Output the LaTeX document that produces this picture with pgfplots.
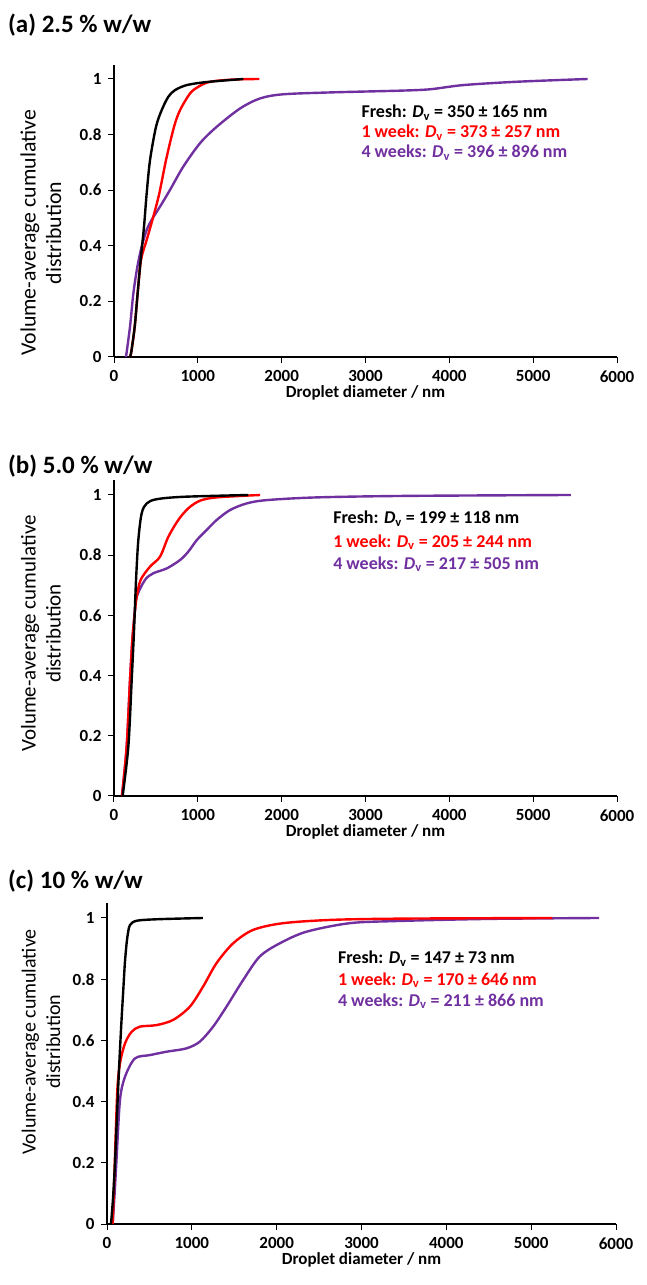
\documentclass[border=0pt]{standalone}
\usepackage{pgfplots}
\pgfplotsset{compat=1.18}
\usepackage{fontspec}
\setmainfont{Carlito}
\definecolor{vio}{RGB}{112,48,160}
\definecolor{rd}{RGB}{255,0,0}

\pgfplotsset{panel/.style={
  scale only axis, width=503pt,
  axis lines=left, axis line style={-, line width=1.1pt},
  xmin=0, xmax=6000, ymin=0, ymax=1.05,
  xtick={0,1000,2000,3000,4000,5000,6000},
  ytick={0,0.2,0.4,0.6,0.8,1},
  tick align=outside, major tick length=6pt,
  tick style={black, line width=1pt},
  ticklabel style={font=\bfseries\fontsize{17}{20}\selectfont},
  xticklabel style={yshift=-4pt},
  yticklabel style={xshift=-3pt},
  /pgf/number format/assume math mode=true,
  /pgf/number format/1000 sep={},
  scaled ticks=false,
  xlabel={Droplet diameter / nm},
  every axis x label/.style={at={(axis description cs:0.5,0)}, yshift=-36pt, anchor=center,
     font=\bfseries\fontsize{17}{20}\selectfont},
  ylabel={Volume-average cumulative\\distribution},
  every axis y label/.style={anchor=center, align=center},
  every axis plot/.append style={line width=2.4pt, smooth, tension=0.5, no marks},
  clip=false,
}}
\tikzset{ann/.style={anchor=base west, font=\bfseries\fontsize{18}{21}\selectfont, inner sep=0}}

\begin{document}
\begin{tikzpicture}
\path[use as bounding box] (0pt,0pt) rectangle (646pt,1285pt);

% titles
\node[anchor=base west, font=\bfseries\fontsize{25}{30}\selectfont, inner sep=0] at (8pt,1252pt) {(a) 2.5 \% w/w};
\node[anchor=base west, font=\bfseries\fontsize{25}{30}\selectfont, inner sep=0] at (8pt,811pt) {(b) 5.0 \% w/w};
\node[anchor=base west, font=\bfseries\fontsize{25}{30}\selectfont, inner sep=0] at (8pt,396pt) {(c) 10 \% w/w};

% ---------------- panel (a)
\begin{axis}[panel, height=291.9pt, at={(114pt,928pt)}, anchor=south west,
  ylabel style={at={(axis description cs:0,0.425)}, xshift=-73pt, rotate=90, font=\fontsize{21.8}{25.5}\selectfont}]
\addplot[vio] coordinates {
(143,0) (191,0.109) (231,0.229) (279,0.325) (330,0.397) (390,0.457) (449,0.493) (549,0.541)
(668,0.601) (827,0.685) (1026,0.769) (1225,0.828) (1504,0.894) (1742,0.930) (2020,0.945)
(2617,0.952) (3413,0.958) (3771,0.963) (4165,0.978) (4800,0.99) (5650,1.0)};
\addplot[rd] coordinates {
(183,0) (203,0.013) (247,0.109) (282,0.229) (322,0.349) (390,0.421) (469,0.505) (541,0.589)
(621,0.709) (716,0.828) (788,0.888) (907,0.948) (1006,0.972) (1146,0.99) (1424,0.998) (1734,1.0)};
\addplot[black] coordinates {
(183,0) (203,0.013) (247,0.109) (282,0.229) (318,0.349) (358,0.469) (390,0.589) (430,0.709)
(501,0.828) (569,0.888) (648,0.936) (728,0.96) (867,0.978) (1105,0.989) (1543,1.0)};
\node[ann, text=black] at (axis cs:2950,0.86) {Fresh: \textit{D}\textsubscript{v} = 350 ± 165 nm};
\node[ann, text=rd] at (axis cs:2950,0.788) {1 week: \textit{D}\textsubscript{v} = 373 ± 257 nm};
\node[ann, text=vio] at (axis cs:2950,0.716) {4 weeks: \textit{D}\textsubscript{v} = 396 ± 896 nm};
\end{axis}

% ---------------- panel (b)
\begin{axis}[panel, height=316.05pt, at={(114pt,489pt)}, anchor=south west,
  ylabel style={at={(axis description cs:0,0.514)}, xshift=-73pt, rotate=90, font=\fontsize{21}{25}\selectfont}]
\addplot[vio] coordinates {
(95,0) (151,0.164) (191,0.385) (219,0.518) (247,0.607) (271,0.662) (370,0.718) (469,0.740)
(629,0.756) (788,0.784) (887,0.812) (987,0.850) (1106,0.884) (1225,0.917) (1384,0.950)
(1583,0.972) (1822,0.983) (2419,0.992) (3500,0.997) (5450,1.0)};
\addplot[rd] coordinates {
(95,0) (151,0.164) (191,0.385) (219,0.518) (247,0.607) (271,0.662) (318,0.718) (430,0.762)
(549,0.795) (648,0.861) (767,0.917) (887,0.956) (1026,0.981) (1225,0.992) (1742,1.0)};
\addplot[black] coordinates {
(103,0) (171,0.164) (211,0.385) (239,0.551) (263,0.718) (290,0.850) (330,0.939) (390,0.972)
(509,0.986) (827,0.994) (1603,1.0)};
\node[ann, text=black] at (axis cs:2613,0.904) {Fresh: \textit{D}\textsubscript{v} = 199 ± 118 nm};
\node[ann, text=rd] at (axis cs:2613,0.827) {1 week: \textit{D}\textsubscript{v} = 205 ± 244 nm};
\node[ann, text=vio] at (axis cs:2613,0.754) {4 weeks: \textit{D}\textsubscript{v} = 217 ± 505 nm};
\end{axis}

% ---------------- panel (c)
\begin{axis}[panel, width=509pt, height=321.3pt, at={(107pt,61pt)}, anchor=south west,
  ylabel style={at={(axis description cs:0,0.567)}, xshift=-66pt, rotate=90, font=\fontsize{20}{24.5}\selectfont}]
\addplot[vio] coordinates {
(67,0) (90,0.1) (114,0.22) (153,0.405) (212,0.481) (329,0.541) (506,0.552) (702,0.563)
(937,0.574) (1094,0.596) (1251,0.645) (1408,0.71) (1604,0.797) (1800,0.874) (2035,0.917)
(2349,0.955) (2859,0.983) (3408,0.99) (4500,0.997) (5800,1.0)};
\addplot[rd] coordinates {
(67,0) (80,0.1) (94,0.22) (122,0.438) (153,0.525) (212,0.59) (290,0.628) (388,0.645)
(584,0.65) (780,0.667) (976,0.71) (1133,0.776) (1290,0.852) (1486,0.917) (1722,0.961)
(2075,0.983) (2662,0.994) (3500,0.998) (5250,1.0)};
\addplot[black] coordinates {
(47,0) (70,0.08) (94,0.198) (120,0.37) (145,0.525) (170,0.66) (192,0.765) (210,0.85)
(231,0.917) (250,0.955) (271,0.977) (349,0.991) (600,0.996) (1130,1.0)};
\node[ann, text=black] at (axis cs:2721,0.85) {Fresh: \textit{D}\textsubscript{v} = 147 ± 73 nm};
\node[ann, text=rd] at (axis cs:2721,0.781) {1 week: \textit{D}\textsubscript{v} = 170 ± 646 nm};
\node[ann, text=vio] at (axis cs:2721,0.712) {4 weeks: \textit{D}\textsubscript{v} = 211 ± 866 nm};
\end{axis}
\end{tikzpicture}
\end{document}
